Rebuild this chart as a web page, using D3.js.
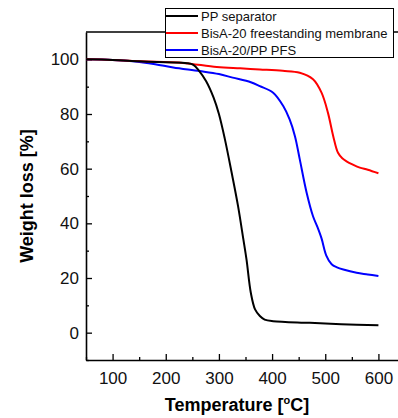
<!DOCTYPE html>
<html>
<head>
<meta charset="utf-8">
<script src="https://cdn.jsdelivr.net/npm/d3@7"></script>
<style>
  body { margin: 0; background: #fff; }
  svg { display: block; font-family: "Liberation Sans", Arial, sans-serif; }
  .tick text { font-size: 17px; fill: #111; }
</style>
</head>
<body>
<div id="chart"></div>
<script>
// DATA (temperature in C, weight %)
const seriesNames = ["PP separator", "BisA-20 freestanding membrane", "BisA-20/PP PFS"];
const seriesColors = ["#000000", "#ff0000", "#0000ff"];

const ppTemp   = [50, 100, 150, 200, 240, 252, 262, 276, 290, 300, 311, 324, 336, 346, 352, 360, 368, 377, 386, 402, 471, 530, 600];
const ppWeight = [100, 99.8, 99.3, 98.9, 98.6, 98, 96, 92, 86, 80, 71, 58.5, 46.3, 34.1, 26.6, 14.6, 8.5, 6.1, 4.8, 4.2, 3.6, 3.1, 2.7];

const memTemp   = [50, 100, 138, 180, 232, 296, 340, 377, 420, 452, 477, 493, 505, 515, 524, 532, 540, 552, 565, 580, 600];
const memWeight = [100, 99.8, 99.4, 99.1, 98.7, 97.2, 96.7, 96.3, 95.8, 95.1, 92.7, 87.8, 80.5, 71.9, 65.8, 63.8, 62.7, 61.5, 60.4, 59.6, 58.3];

const pfsTemp   = [50, 100, 138, 180, 214, 264, 300, 326, 360, 377, 402, 421, 433, 443, 452, 465, 477, 485, 493, 502, 512, 522, 534, 559, 580, 600];
const pfsWeight = [100, 99.8, 99.3, 98.2, 97, 95.7, 94.6, 93.3, 91.6, 90.2, 87.8, 82.9, 78, 71.9, 63.5, 51.2, 42.6, 38.8, 34.5, 28.2, 25, 23.9, 23.1, 21.9, 21.3, 20.7];

const xTicks = [100, 200, 300, 400, 500, 600];
const xMinor = [50, 150, 250, 350, 450, 550];
const yTicks = [0, 20, 40, 60, 80, 100];
const yMinor = [-10, 10, 30, 50, 70, 90];

// SET UP
const chartwidth = 398;
const chartheight = 418;
const margin = {top: 32, left: 86, bottom: 58};
const plotRight = 405;

const svg = d3.select("#chart")
    .append("svg")
    .attr("width", chartwidth)
    .attr("height", chartheight);

// SCALES
const xScale = d3.scaleLinear()
    .domain([50, 650])
    .range([margin.left, plotRight]);

const yScale = d3.scaleLinear()
    .domain([-10, 110])
    .range([chartheight - margin.bottom, margin.top]);

// AXES (ticks point inward)
const xAxis = svg.append("g")
    .attr("transform", `translate(0,${chartheight - margin.bottom})`)
    .call(d3.axisBottom(xScale).tickValues(xTicks).tickSizeInner(-6).tickSizeOuter(0).tickPadding(12));

svg.append("g")
    .attr("transform", `translate(0,${chartheight - margin.bottom})`)
    .call(d3.axisBottom(xScale).tickValues(xMinor).tickSizeInner(-3).tickSizeOuter(0).tickFormat(""))
    .select(".domain").remove();

const yAxis = svg.append("g")
    .attr("transform", `translate(${margin.left},0)`)
    .call(d3.axisLeft(yScale).tickValues(yTicks).tickSizeInner(-6).tickSizeOuter(0).tickPadding(7));

svg.append("g")
    .attr("transform", `translate(${margin.left},0)`)
    .call(d3.axisLeft(yScale).tickValues(yMinor).tickSizeInner(-3).tickSizeOuter(0).tickFormat(""))
    .select(".domain").remove();

svg.selectAll(".domain").attr("stroke-width", 1.6);
svg.selectAll(".tick line").attr("stroke-width", 1.3);

// top and right frame
svg.append("path")
    .attr("d", `M${margin.left},${margin.top}H${plotRight}V${chartheight - margin.bottom}`)
    .attr("fill", "none")
    .attr("stroke", "#000")
    .attr("stroke-width", 1.6);

// LINES
const line = d3.line()
    .x(function(d) { return xScale(d[0]); })
    .y(function(d) { return yScale(d[1]); })
    .curve(d3.curveCatmullRom.alpha(0.5));

const allSeries = [
    d3.zip(ppTemp, ppWeight),
    d3.zip(memTemp, memWeight),
    d3.zip(pfsTemp, pfsWeight)
];

// draw blue, red, then black on top like the original
[2, 1, 0].forEach(function(i) {
    svg.append("path")
        .datum(allSeries[i])
        .attr("d", line)
        .attr("fill", "none")
        .attr("stroke", seriesColors[i])
        .attr("stroke-width", 2);
});

// AXIS LABELS
svg.append("text")
    .attr("x", -196)
    .attr("y", 33)
    .attr("transform", "rotate(-90)")
    .attr("text-anchor", "middle")
    .attr("font-size", 18)
    .attr("font-weight", "bold")
    .text("Weight loss [%]");

const xLab = svg.append("text")
    .attr("x", 237)
    .attr("y", 411)
    .attr("text-anchor", "middle")
    .attr("font-size", 18)
    .attr("font-weight", "bold");
xLab.append("tspan").text("Temperature [");
xLab.append("tspan").attr("font-size", 11).attr("dy", -7).text("o");
xLab.append("tspan").attr("dy", 7).text("C]");

// LEGEND
const legend = svg.append("g");
legend.append("rect")
    .attr("x", 165.5)
    .attr("y", 8.5)
    .attr("width", 228)
    .attr("height", 49)
    .attr("fill", "#fff")
    .attr("stroke", "#000")
    .attr("stroke-width", 1);

seriesNames.forEach(function(name, i) {
    const yy = 16 + i * 17;
    legend.append("line")
        .attr("x1", 166).attr("x2", 198)
        .attr("y1", yy).attr("y2", yy)
        .attr("stroke", seriesColors[i])
        .attr("stroke-width", 2);
    legend.append("text")
        .attr("x", 201)
        .attr("y", yy + 4.5)
        .attr("font-size", 13)
        .attr("fill", "#111")
        .text(name);
});
</script>
</body>
</html>
